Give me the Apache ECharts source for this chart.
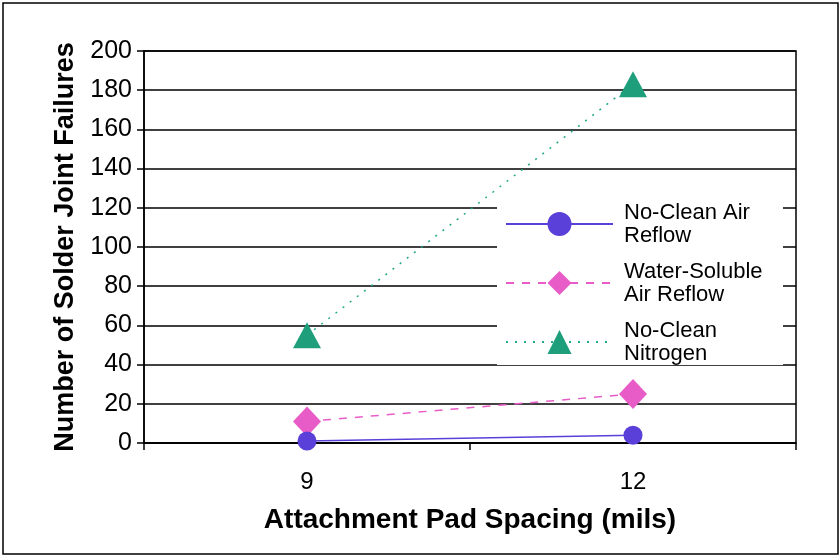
<!DOCTYPE html>
<html>
<head>
<meta charset="utf-8">
<script src="https://cdn.jsdelivr.net/npm/echarts@6/dist/echarts.min.js"></script>
<style>
  html, body { margin: 0; padding: 0; background: #fff; }
  #chart { width: 840px; height: 558px; }
</style>
</head>
<body>
<div id="chart"></div>
<script>
// data
const padSpacing = ['9', '12']
const noCleanAir = [1, 4]
const waterSolubleAir = [11, 25]
const noCleanNitrogen = [55, 183]
const seriesNames = ['No-Clean Air\nReflow', 'Water-Soluble\nAir Reflow', 'No-Clean\nNitrogen']

const chart = echarts.init(document.getElementById('chart'))

const option = {
  backgroundColor: '#fff',
  animation: false,
  textStyle: { fontFamily: 'Liberation Sans, Arial, sans-serif' },
  graphic: [
    {
      // outer frame
      type: 'rect',
      shape: { x: 3, y: 3, width: 835, height: 551 },
      style: { fill: 'none', stroke: '#000', lineWidth: 1.5 },
      z: -1
    },
    {
      // white box behind the legend, hides the gridlines
      type: 'rect',
      shape: { x: 497, y: 196, width: 286, height: 169 },
      style: { fill: '#fff' },
      z: 3
    }
  ],
  grid: {
    left: 144,
    right: 44,
    top: 51,
    bottom: 115,
    show: true,
    borderColor: '#000',
    borderWidth: 1.5
  },
  legend: {
    orient: 'vertical',
    left: 497,
    top: 197,
    padding: [4, 6, 4, 8],
    itemWidth: 107,
    itemHeight: 30,
    itemGap: 13,
    textStyle: { fontSize: 22, color: '#000', lineHeight: 23, padding: [0, 0, 0, 6] },
    data: seriesNames,
    z: 4
  },
  xAxis: {
    type: 'category',
    data: padSpacing,
    boundaryGap: true,
    name: 'Attachment Pad Spacing (mils)',
    nameLocation: 'middle',
    nameGap: 63,
    nameTextStyle: { fontSize: 28, fontWeight: 'bold', color: '#000' },
    axisLine: { lineStyle: { color: '#000', width: 1.5 } },
    axisTick: { show: true, length: 7, lineStyle: { color: '#000', width: 1.5 } },
    axisLabel: { fontSize: 24, color: '#000', margin: 27 }
  },
  yAxis: {
    type: 'value',
    min: 0,
    max: 200,
    interval: 20,
    name: 'Number of Solder Joint Failures',
    nameLocation: 'middle',
    nameGap: 65,
    nameTextStyle: { fontSize: 27, fontWeight: 'bold', color: '#000' },
    axisLine: { show: true, lineStyle: { color: '#000', width: 1.5 } },
    axisTick: { show: true, length: 7, lineStyle: { color: '#000', width: 1.5 } },
    axisLabel: { fontSize: 25, color: '#000', margin: 12 },
    splitLine: { show: true, lineStyle: { color: '#000', width: 1.5 } }
  },
  series: [
    {
      name: seriesNames[0],
      type: 'line',
      data: noCleanAir,
      symbol: 'circle',
      symbolSize: 19,
      lineStyle: { color: '#5a3fd8', width: 1.5, type: 'solid' },
      itemStyle: { color: '#5a3fd8' },
      z: 3
    },
    {
      name: seriesNames[1],
      type: 'line',
      data: waterSolubleAir,
      symbol: 'diamond',
      symbolSize: [28, 30],
      lineStyle: { color: '#e85cc8', width: 1.5, type: [8, 8] },
      itemStyle: { color: '#e85cc8' },
      z: 2
    },
    {
      name: seriesNames[2],
      type: 'line',
      data: noCleanNitrogen,
      symbol: 'triangle',
      symbolSize: [28, 26],
      lineStyle: { color: '#22a98a', width: 1.5, type: [2, 7] },
      itemStyle: { color: '#1f9e7c' },
      z: 2
    }
  ]
}

chart.setOption(option)
</script>
</body>
</html>
